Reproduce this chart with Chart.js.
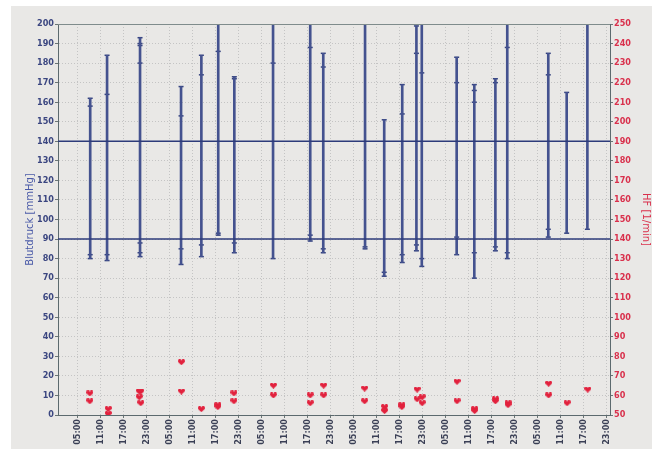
<!DOCTYPE html>
<html>
<head>
<meta charset="utf-8">
<script src="https://cdn.jsdelivr.net/npm/chart.js@4.4.0/dist/chart.umd.min.js"></script>
<style>
  html, body { margin: 0; padding: 0; background: #ffffff; }
  #panel { position: absolute; left: 11px; top: 6px; width: 641px; height: 443px; background: #e9e8e6; }
  #wrap { position: absolute; left: 0; top: 0; width: 655px; height: 450px; }
</style>
</head>
<body>
<div id="panel"></div>
<div id="wrap"><canvas id="chart" width="655" height="450"></canvas></div>
<script>
// x axis ticks (hours since start of day 1)
const xTickHours = [5, 11, 17, 23, 29, 35, 41, 47, 53, 59, 65, 71, 77, 83, 89, 95, 101, 107, 113, 119, 125, 131, 137, 143];
const xTickLabels = ['05:00', '11:00', '17:00', '23:00', '05:00', '11:00', '17:00', '23:00',
    '05:00', '11:00', '17:00', '23:00', '05:00', '11:00', '17:00', '23:00',
    '05:00', '11:00', '17:00', '23:00', '05:00', '11:00', '17:00', '23:00'];

// blood pressure readings per vertical line
const bpHours = [8.4, 12.8, 21.4, 32.1, 37.4, 41.8, 46.0, 56.1, 65.8, 69.2, 80.1, 85.1,
    89.8, 93.5, 94.9, 104.0, 108.6, 114.1, 117.2, 127.9, 132.7, 138.1];
const bpSys = [[162, 158], [184, 164], [193, 190, 189, 180], [168, 153], [184, 174], [205, 186],
    [173, 172], [205, 180], [205, 188], [185, 178], [205], [151], [169, 154], [199, 185],
    [205, 175], [183, 170], [169, 166, 160], [172, 170], [205, 188], [185, 174], [165], [205]];
const bpDia = [[82, 80], [82, 79], [88, 83, 81], [85, 77], [87, 81], [93, 92], [88, 83], [80],
    [92, 89], [85, 83], [86, 85], [73, 71], [82, 78], [87, 84], [80, 76], [91, 82], [83, 70],
    [86, 84], [83, 80], [95, 91], [93], [95]];

// heart rate
const hrHours = [8.3, 8.3, 13.1, 13.1, 21.2, 21.2, 21.6, 21.6, 32.2, 32.2, 37.4, 41.7, 41.7,
    45.9, 45.9, 56.2, 56.2, 65.8, 65.8, 69.3, 69.3, 80.0, 80.0, 85.2, 85.2, 89.7, 89.7,
    93.7, 93.7, 95.0, 95.0, 104.1, 104.1, 108.7, 108.7, 114.1, 114.1, 117.4, 117.4,
    128.0, 128.0, 132.8, 138.2];
const hrValues = [61, 57, 53, 50.5, 62, 59, 62, 56, 77, 62, 53, 55, 54,
    61, 57, 65, 60, 60, 56, 65, 60, 63.5, 57, 54, 52, 55, 54,
    63, 58, 59, 56, 67, 57, 53, 52, 58, 57, 56, 55,
    66, 60, 56, 63];

// reference lines (mmHg)
const refLines = [140, 90];

// build datasets
const bpBars = bpHours.map((h, i) => ({ x: h, y: [Math.min(...bpDia[i]), Math.max(...bpSys[i])] }));
const bpTicks = [];
bpHours.forEach((h, i) => {
    bpSys[i].concat(bpDia[i]).forEach(v => bpTicks.push({ x: h, y: v }));
});
const hrPoints = hrHours.map((h, i) => ({ x: h, y: hrValues[i] }));

// heart marker
const heart = document.createElement('canvas');
heart.width = 7; heart.height = 6;
(function () {
    const c = heart.getContext('2d');
    c.fillStyle = '#e2213d';
    c.beginPath();
    c.moveTo(3.5, 6);
    c.bezierCurveTo(1, 4, 0, 3, 0, 1.8);
    c.bezierCurveTo(0, 0.5, 0.8, 0, 1.8, 0);
    c.bezierCurveTo(2.6, 0, 3.2, 0.6, 3.5, 1.3);
    c.bezierCurveTo(3.8, 0.6, 4.4, 0, 5.2, 0);
    c.bezierCurveTo(6.2, 0, 7, 0.5, 7, 1.8);
    c.bezierCurveTo(7, 3, 6, 4, 3.5, 6);
    c.fill();
})();

const frame = {
    id: 'frame',
    afterDraw(chart) {
        const a = chart.chartArea, ctx = chart.ctx;
        ctx.save();
        ctx.strokeStyle = '#7f8c8c';
        ctx.lineWidth = 1;
        ctx.beginPath();
        ctx.moveTo(a.left, a.top + 0.5);
        ctx.lineTo(a.right, a.top + 0.5);
        ctx.stroke();
        ctx.restore();
    }
};

const tickFont = { family: 'DejaVu Sans Condensed', size: 9, weight: 'bold' };

new Chart(document.getElementById('chart'), {
    data: {
        datasets: [
            ...refLines.map(v => ({
                type: 'line',
                data: [{ x: 0, y: v }, { x: 144, y: v }],
                borderColor: '#2d3b7a',
                borderWidth: 1.5,
                pointRadius: 0,
                yAxisID: 'y'
            })),
            {
                type: 'bar',
                data: bpBars,
                backgroundColor: '#44528f',
                borderWidth: 0,
                barThickness: 2,
                yAxisID: 'y'
            },
            {
                type: 'line',
                data: bpTicks,
                showLine: false,
                pointStyle: 'line',
                pointRadius: 2.5,
                borderColor: '#34427f',
                pointBorderWidth: 1.5,
                yAxisID: 'y'
            },
            {
                type: 'line',
                data: hrPoints,
                showLine: false,
                pointStyle: heart,
                yAxisID: 'y2'
            }
        ]
    },
    options: {
        responsive: false,
        animation: false,
        layout: { padding: { left: 11, right: 3, top: 24, bottom: 0 } },
        plugins: { legend: { display: false }, tooltip: { enabled: false } },
        scales: {
            x: {
                type: 'linear',
                min: 0,
                max: 144,
                offset: false,
                afterBuildTicks(scale) {
                    scale.ticks = xTickHours.map(v => ({ value: v }));
                },
                afterFit(scale) { scale.height = 35; },
                ticks: {
                    autoSkip: false,
                    minRotation: 90,
                    maxRotation: 90,
                    padding: 1,
                    color: '#3a3f55',
                    font: tickFont,
                    callback: (v, i) => xTickLabels[i]
                },
                grid: { offset: false, color: '#c4c4c4', tickColor: '#6a7575', tickLength: 3, tickBorderDash: [] },
                border: { color: '#5c6a6e', width: 1, dash: [1, 2] }
            },
            y: {
                position: 'left',
                min: 0,
                max: 200,
                afterFit(scale) { scale.width = 47; },
                ticks: { stepSize: 10, padding: 1, color: '#3b4680', font: tickFont },
                grid: { color: '#c4c4c4', tickColor: '#6a7575', tickLength: 3, tickBorderDash: [] },
                border: { color: '#5c6a6e', width: 1, dash: [1, 2] },
                title: {
                    display: true,
                    text: 'Blutdruck [mmHg]',
                    color: '#4a5aa8',
                    font: { family: 'DejaVu Sans', size: 10 },
                    padding: { top: 13, bottom: 0 }
                }
            },
            y2: {
                position: 'right',
                min: 50,
                max: 250,
                afterFit(scale) { scale.width = 42; },
                ticks: { stepSize: 10, padding: 1, color: '#d9304c', font: tickFont },
                grid: { drawOnChartArea: false, color: '#6a7575', tickLength: 3 },
                border: { color: '#5c6a6e', width: 1 },
                title: {
                    display: true,
                    text: 'HF [1/min]',
                    color: '#d9304c',
                    font: { family: 'DejaVu Sans', size: 10 },
                    padding: { top: 0, bottom: 2 }
                }
            }
        }
    },
    plugins: [frame]
});
</script>
</body>
</html>
